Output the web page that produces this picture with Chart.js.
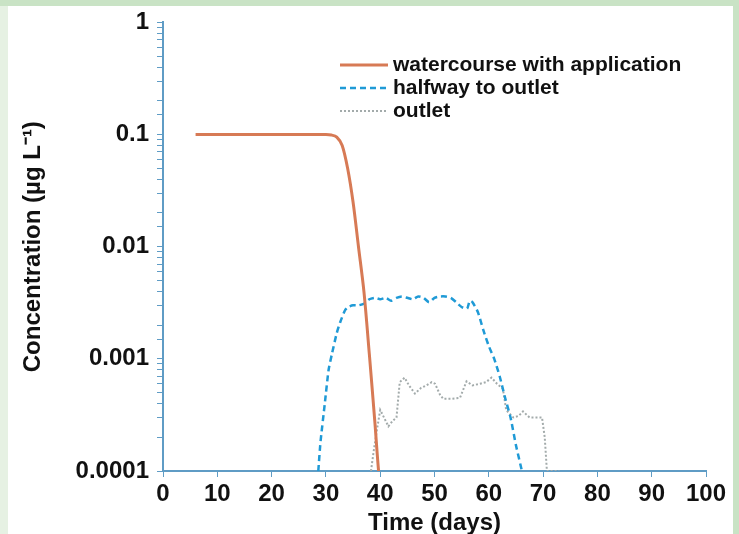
<!DOCTYPE html>
<html lang="en">
<head>
<meta charset="UTF-8">
<title>Concentration over time</title>
<script src="https://cdn.jsdelivr.net/npm/chart.js"></script>
<style>
  html, body { margin: 0; padding: 0; }
  body { width: 739px; height: 534px; background: #c9e3c5; position: relative; overflow: hidden; }
  .strip { position: absolute; left: 0; top: 6px; width: 8px; height: 528px; background: #e6f1e3; }
  .paper { position: absolute; left: 8px; top: 6px; width: 725px; height: 528px; background: #fff; }
  #concChart { position: absolute; left: 0; top: 0; }
</style>
</head>
<body>
<div class="strip"></div>
<div class="paper"></div>
<canvas id="concChart" width="739" height="534"></canvas>

<script>
// values (days, µg/L)
const waterDays = [6, 10, 20, 30, 31, 32, 33, 34, 35, 36, 37, 38, 39, 39.7, 40.2];
const waterConc = [0.1, 0.1, 0.1, 0.1, 0.099, 0.095, 0.08, 0.05, 0.025, 0.01, 0.004, 0.0011, 0.00028, 0.0001, 0.00006];

const halfDays = [28.6, 29, 29.8, 30.5, 31.1, 32, 32.6, 33.5, 34.1, 35, 36, 37, 38, 39, 40, 41, 42, 43, 44, 45, 46, 47, 48, 49, 50, 51, 52, 53, 54, 55, 56, 56.5, 57, 58, 59, 60, 61, 62, 63, 64, 65, 66.1];
const halfConc = [0.0001, 0.00018, 0.0004, 0.0008, 0.0011, 0.0017, 0.0021, 0.0027, 0.0029, 0.003, 0.003, 0.0031, 0.0034, 0.0035, 0.0034, 0.0035, 0.0033, 0.0035, 0.0036, 0.0035, 0.0034, 0.0036, 0.0035, 0.0032, 0.0035, 0.0036, 0.0036, 0.0035, 0.0032, 0.0029, 0.0028, 0.0033, 0.0032, 0.0026, 0.0018, 0.0013, 0.001, 0.0007, 0.00045, 0.0003, 0.00017, 0.0001];

const outletDays = [38.3, 38.8, 39.5, 40, 40.7, 41.5, 42.3, 43, 43.6, 44.5, 45.3, 46.4, 47.5, 48.5, 49.5, 50.1, 51, 51.6, 53, 54.7, 55.9, 57, 58.4, 59.5, 60.5, 61.5, 62.6, 63.2, 64.5, 65.5, 66.3, 67.5, 69.8, 70.3, 70.7, 73];
const outletConc = [0.0001, 0.00015, 0.00025, 0.00035, 0.0003, 0.00025, 0.00028, 0.0003, 0.00062, 0.00068, 0.00058, 0.00049, 0.00055, 0.00058, 0.00062, 0.0006, 0.00048, 0.00044, 0.00044, 0.00045, 0.00063, 0.00058, 0.0006, 0.00062, 0.00068, 0.0006, 0.00054, 0.00035, 0.0003, 0.00031, 0.00034, 0.0003, 0.0003, 0.0002, 0.0001, 0.0001];

const xTicks = [0, 10, 20, 30, 40, 50, 60, 70, 80, 90, 100];
const yTickLabels = ['1', '0.1', '0.01', '0.001', '0.0001'];

const pts = (xs, ys) => xs.map((x, i) => ({ x: x, y: ys[i] }));
const axisBlue = '#5f9cc5';
const boldFont = { family: 'Liberation Sans, Arial, sans-serif', weight: 'bold' };

// legend drawn inside the plot, top right
const innerLegend = {
  id: 'innerLegend',
  afterDatasetsDraw(chart) {
    const ctx = chart.ctx;
    const x0 = 340, x1 = 388, tx = 393;
    let y = 65;
    ctx.save();
    ctx.font = 'bold 21px Liberation Sans, Arial, sans-serif';
    ctx.textBaseline = 'middle';
    chart.data.datasets.forEach(ds => {
      ctx.strokeStyle = ds.borderColor;
      ctx.lineWidth = ds.borderWidth;
      ctx.setLineDash(ds.borderDash || []);
      ctx.beginPath();
      ctx.moveTo(x0, y);
      ctx.lineTo(x1, y);
      ctx.stroke();
      ctx.setLineDash([]);
      ctx.fillStyle = '#111';
      ctx.fillText(ds.label, tx, y);
      y += 23;
    });
    ctx.restore();
  }
};

new Chart(document.getElementById('concChart'), {
  type: 'line',
  data: {
    datasets: [
      {
        label: 'watercourse with application',
        data: pts(waterDays, waterConc),
        borderColor: '#d77a55',
        borderWidth: 3,
        tension: 0.3,
        pointRadius: 0
      },
      {
        label: 'halfway to outlet',
        data: pts(halfDays, halfConc),
        borderColor: '#1f9ad6',
        borderWidth: 2.5,
        borderDash: [6, 4],
        tension: 0.2,
        pointRadius: 0
      },
      {
        label: 'outlet',
        data: pts(outletDays, outletConc),
        borderColor: '#a3abab',
        borderWidth: 2,
        borderDash: [2, 2],
        pointRadius: 0
      }
    ]
  },
  options: {
    responsive: false,
    animation: false,
    layout: { padding: { top: 15, right: 33, bottom: 0, left: 0 } },
    plugins: {
      legend: { display: false },
      tooltip: { enabled: false }
    },
    scales: {
      x: {
        type: 'linear',
        min: 0,
        max: 100,
        afterBuildTicks: s => { s.ticks = xTicks.map(v => ({ value: v })); },
        afterFit: s => { s.height = 63; },
        grid: { drawOnChartArea: false, color: axisBlue, tickLength: 6 },
        border: { color: axisBlue, width: 2 },
        ticks: { autoSkip: false, color: '#111', padding: 3, font: { ...boldFont, size: 24 }, maxRotation: 0 },
        title: { display: true, text: 'Time (days)', color: '#111', font: { ...boldFont, size: 24 }, padding: { top: 0, bottom: -4 } }
      },
      y: {
        type: 'logarithmic',
        min: 0.0001,
        max: 1,
        afterFit: s => { s.width = 163; },
        grid: { drawOnChartArea: false, color: axisBlue, tickLength: 6 },
        border: { color: axisBlue, width: 2 },
        ticks: {
          autoSkip: false,
          color: '#111',
          padding: 8,
          font: { ...boldFont, size: 24 },
          callback: v => {
            const i = yTickLabels.indexOf(String(v));
            return i >= 0 ? yTickLabels[i] : '';
          }
        },
        title: { display: true, text: 'Concentration (µg L⁻¹)', color: '#111', font: { ...boldFont, size: 24 }, padding: { top: 19, bottom: 0 } }
      }
    }
  },
  plugins: [innerLegend]
});
</script>
</body>
</html>
